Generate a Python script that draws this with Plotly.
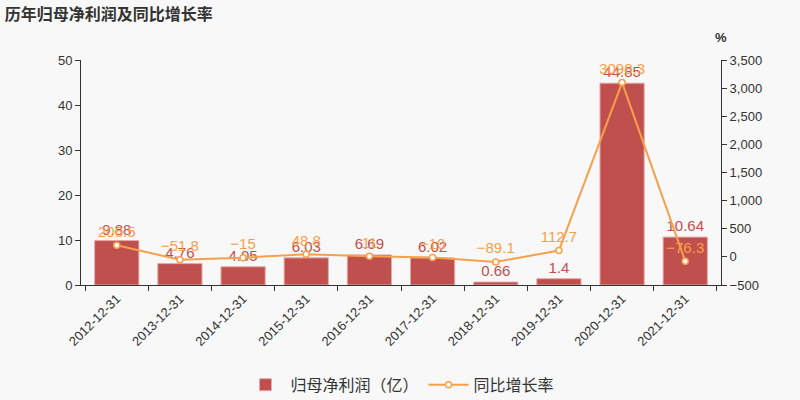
import plotly.graph_objects as go

categories = ["2012-12-31", "2013-12-31", "2014-12-31", "2015-12-31", "2016-12-31",
              "2017-12-31", "2018-12-31", "2019-12-31", "2020-12-31", "2021-12-31"]
profit = [9.88, 4.76, 4.05, 6.03, 6.69, 6.02, 0.66, 1.4, 44.85, 10.64]
growth = [206.5, -51.8, -15, 48.8, 11, -10, -89.1, 112.7, 3098.3, -76.3]

BAR = "#c0504d"
LINE = "#f7a04b"
FONT = "Liberation Sans, Arial, Noto Sans CJK SC, sans-serif"


def fmt(v):
    return f"{v:g}".replace("-", "\u2212")


fig = go.Figure()
fig.add_trace(go.Bar(
    x=categories, y=profit, name="归母净利润（亿）",
    marker=dict(color=BAR, line=dict(color="#e3aaa8", width=1)),
    width=0.7,
    text=[fmt(v) for v in profit], textposition="outside",
    textfont=dict(color=BAR, size=15), cliponaxis=False,
))
fig.add_trace(go.Scatter(
    x=categories, y=growth, name="同比增长率", yaxis="y2",
    mode="lines+markers+text",
    line=dict(color=LINE, width=2),
    marker=dict(color="white", size=6, line=dict(color=LINE, width=1.5)),
    text=[fmt(v) for v in growth], textposition="top center",
    textfont=dict(color=LINE, size=15), cliponaxis=False,
))

axis_common = dict(showline=True, linecolor="#333", linewidth=1, ticks="outside",
                   tickcolor="#333", ticklen=5, showgrid=False, zeroline=False,
                   tickfont=dict(size=13, color="#333"), automargin=False)

fig.update_layout(
    width=800, height=400,
    margin=dict(l=81, r=79, t=60, b=115),
    paper_bgcolor="#f8f8f8", plot_bgcolor="#f8f8f8",
    font=dict(family=FONT, color="#333"),
    title=dict(text="<b>历年归母净利润及同比增长率</b>", x=0.006, xanchor="left",
               y=0.965, yanchor="middle", automargin=False,
               font=dict(size=16, color="#333", family="Noto Sans CJK SC, sans-serif")),
    xaxis=dict(type="category", showline=True, linecolor="#333", ticks="outside",
               tickcolor="#333", ticklen=5, tickson="boundaries", tickangle=-45,
               tickfont=dict(size=13, color="#333"), showgrid=False, automargin=False),
    yaxis=dict(range=[0, 50], dtick=10, **axis_common),
    yaxis2=dict(range=[-500, 3500], dtick=500, overlaying="y", side="right",
                tickformat=",", **axis_common),
    legend=dict(orientation="h", x=0.5, xanchor="center", xref="container",
                y=0.038, yanchor="middle", yref="container", itemwidth=40,
                font=dict(size=16, color="#333", family="Noto Sans CJK SC, sans-serif"),
                bgcolor="rgba(0,0,0,0)"),
    annotations=[dict(text="<b>%</b>", xref="paper", yref="paper", x=1.0, y=1.1,
                      xanchor="center", yanchor="middle", showarrow=False,
                      font=dict(size=13, color="#333"))],
    showlegend=True,
)

fig.write_html("out.html")
